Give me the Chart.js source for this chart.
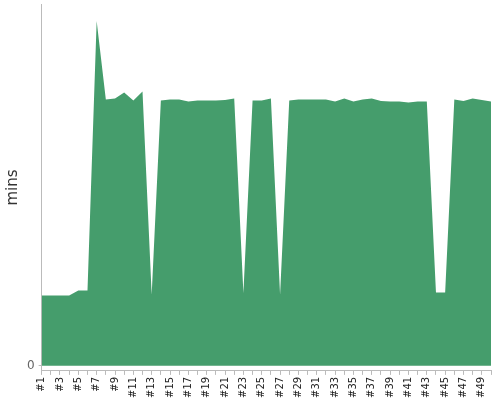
<!DOCTYPE html>
<html>
<head>
<meta charset="utf-8">
<script src="https://cdn.jsdelivr.net/npm/chart.js@4/dist/chart.umd.min.js"></script>
<style>
  html, body { margin: 0; padding: 0; background: #fff; }
  #wrap { width: 500px; height: 400px; }
</style>
</head>
<body>
<div id="wrap"><canvas id="myChart" width="500" height="400"></canvas></div>
<script>
const categories = ['#1','#2','#3','#4','#5','#6','#7','#8','#9','#10',
  '#11','#12','#13','#14','#15','#16','#17','#18','#19','#20',
  '#21','#22','#23','#24','#25','#26','#27','#28','#29','#30',
  '#31','#32','#33','#34','#35','#36','#37','#38','#39','#40',
  '#41','#42','#43','#44','#45','#46','#47','#48','#49','#50'];

const mins = [70, 70, 70, 70, 75, 75, 343, 265, 266, 272,
  264, 273, 71, 264, 265, 265, 263, 264, 264, 264,
  264.5, 266, 72.5, 264, 264, 266, 71, 264, 265, 265,
  265, 265, 263, 266, 263, 265, 266, 263.5, 263, 263,
  262, 263, 263, 73, 73, 265, 263.5, 266, 264.5, 263];

const yTicks = [0];

const ctx = document.getElementById('myChart').getContext('2d');

const myChart = new Chart(ctx, {
  type: 'line',
  data: {
    labels: categories,
    datasets: [{
      data: mins,
      fill: 'origin',
      backgroundColor: 'rgb(69, 157, 108)',
      borderWidth: 0,
      pointRadius: 0,
      tension: 0
    }]
  },
  options: {
    responsive: false,
    animation: false,
    layout: { padding: { top: 4, right: 9, left: 0, bottom: 0 } },
    plugins: {
      legend: { display: false },
      tooltip: { enabled: false }
    },
    scales: {
      x: {
        offset: false,
        afterFit: function(axis) { axis.paddingLeft = 0; axis.paddingRight = 0; },
        border: { color: '#bbb' },
        grid: { display: true, drawOnChartArea: false, tickLength: 4, color: '#bbb' },
        ticks: {
          autoSkip: false,
          maxRotation: 90,
          minRotation: 90,
          padding: 2,
          color: '#222',
          font: { family: 'DejaVu Sans', size: 10 },
          callback: function(val, i) { return i % 2 === 0 ? categories[i] : ''; }
        }
      },
      y: {
        min: -5,
        max: 360,
        afterBuildTicks: function(axis) { axis.ticks = yTicks.map(v => ({ value: v })); },
        afterFit: function(axis) { axis.paddingTop = 0; axis.paddingBottom = 0; },
        border: { color: '#bbb' },
        grid: { display: true, drawOnChartArea: false, tickLength: 3, color: '#bbb' },
        ticks: {
          color: '#666',
          padding: 4,
          font: { family: 'DejaVu Sans', size: 12 }
        },
        title: {
          display: true,
          text: 'mins',
          color: '#333',
          padding: { top: 4, bottom: 1 },
          font: { family: 'DejaVu Sans', size: 15 }
        }
      }
    }
  }
});
</script>
</body>
</html>
